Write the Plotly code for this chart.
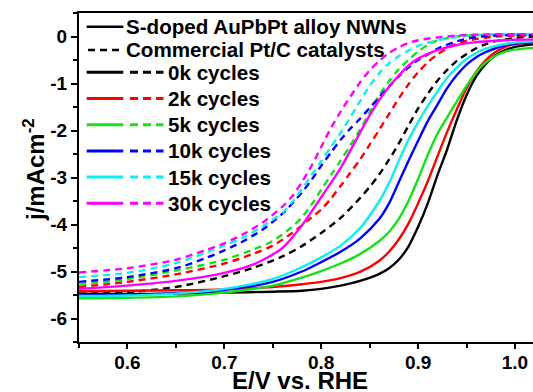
import plotly.graph_objects as go

# ---- potential grids (V vs. RHE) and current densities (mA cm^-2) ----
grid_std = [0.55, 0.60, 0.65, 0.70, 0.75, 0.78, 0.80, 0.82, 0.84, 0.86, 0.87, 0.88,
            0.89, 0.90, 0.91, 0.92, 0.93, 0.94, 0.95, 0.96, 0.97, 0.98, 0.99, 1.00, 1.02]

# S-doped AuPbPt alloy NWNs (solid lines)
nwn_0k_E = grid_std
nwn_0k_j = [-5.48, -5.48, -5.47, -5.45, -5.43, -5.41, -5.37, -5.30, -5.20, -5.05, -4.93, -4.75,
            -4.47, -4.05, -3.55, -2.95, -2.40, -1.78, -1.25, -0.85, -0.58, -0.40, -0.29, -0.22, -0.16]

nwn_2k_E = grid_std
nwn_2k_j = [-5.42, -5.41, -5.40, -5.38, -5.33, -5.27, -5.22, -5.14, -5.01, -4.77, -4.58, -4.32,
            -3.98, -3.55, -3.08, -2.55, -2.03, -1.55, -1.10, -0.75, -0.50, -0.33, -0.22, -0.16, -0.12]

nwn_5k_E = grid_std
nwn_5k_j = [-5.57, -5.56, -5.53, -5.45, -5.30, -5.13, -4.99, -4.83, -4.63, -4.35, -4.16, -3.88,
            -3.50, -3.03, -2.52, -2.07, -1.72, -1.38, -1.05, -0.76, -0.55, -0.41, -0.32, -0.28, -0.24]

nwn_10k_E = grid_std
nwn_10k_j = [-5.50, -5.49, -5.46, -5.39, -5.22, -5.00, -4.80, -4.58, -4.30, -3.88, -3.55, -3.10,
             -2.65, -2.22, -1.80, -1.45, -1.10, -0.82, -0.60, -0.44, -0.33, -0.25, -0.19, -0.15, -0.12]

nwn_15k_E = grid_std
nwn_15k_j = [-5.52, -5.51, -5.47, -5.37, -5.16, -4.91, -4.70, -4.45, -4.08, -3.50, -3.12, -2.65,
             -2.20, -1.82, -1.48, -1.17, -0.88, -0.66, -0.48, -0.35, -0.26, -0.20, -0.16, -0.13, -0.10]

nwn_30k_E = [0.55, 0.60, 0.65, 0.70, 0.73, 0.76, 0.78, 0.80, 0.82, 0.84, 0.85, 0.86, 0.87,
             0.88, 0.89, 0.90, 0.92, 0.94, 0.96, 0.98, 1.00, 1.02]
nwn_30k_j = [-5.37, -5.30, -5.20, -5.03, -4.85, -4.50, -4.02, -3.42, -2.80, -2.05, -1.68, -1.35, -1.07,
             -0.83, -0.62, -0.47, -0.29, -0.18, -0.12, -0.09, -0.07, -0.06]

# Commercial Pt/C catalysts (dashed lines)
ptc_0k_E = [0.55, 0.60, 0.65, 0.70, 0.73, 0.76, 0.78, 0.80, 0.82, 0.84, 0.85, 0.86, 0.87,
            0.88, 0.89, 0.90, 0.91, 0.92, 0.93, 0.94, 0.95, 0.96, 0.97, 0.98, 1.00, 1.02]
ptc_0k_j = [-5.47, -5.44, -5.33, -5.10, -4.92, -4.68, -4.46, -4.18, -3.86, -3.44, -3.20, -2.93, -2.62,
            -2.28, -1.90, -1.53, -1.22, -0.94, -0.71, -0.52, -0.37, -0.25, -0.16, -0.10, -0.03, 0.00]

ptc_2k_E = [0.55, 0.60, 0.65, 0.70, 0.73, 0.75, 0.77, 0.79, 0.80, 0.81, 0.82, 0.83, 0.84, 0.85,
            0.86, 0.87, 0.88, 0.89, 0.90, 0.91, 0.92, 0.93, 0.94, 0.96, 0.98, 1.00, 1.02]
ptc_2k_j = [-5.33, -5.22, -5.06, -4.83, -4.62, -4.45, -4.18, -3.85, -3.68, -3.45, -3.18, -2.90, -2.62, -2.30,
            -1.98, -1.65, -1.32, -1.02, -0.76, -0.55, -0.38, -0.25, -0.15, -0.05, 0.00, 0.02, 0.02]

ptc_5k_E = [0.55, 0.60, 0.65, 0.70, 0.73, 0.75, 0.77, 0.78, 0.79, 0.80, 0.81, 0.82, 0.83,
            0.84, 0.85, 0.86, 0.87, 0.88, 0.89, 0.90, 0.91, 0.92, 0.94, 0.96, 1.00, 1.02]
ptc_5k_j = [-5.28, -5.16, -4.98, -4.75, -4.53, -4.35, -4.05, -3.85, -3.58, -3.26, -2.95, -2.64, -2.32,
            -1.98, -1.62, -1.25, -0.95, -0.70, -0.50, -0.32, -0.18, -0.08, 0.00, 0.03, 0.04, 0.04]

ptc_10k_E = [0.55, 0.60, 0.65, 0.68, 0.70, 0.72, 0.74, 0.76, 0.78, 0.79, 0.80, 0.81, 0.82, 0.83,
             0.84, 0.85, 0.86, 0.87, 0.88, 0.89, 0.90, 0.91, 0.92, 0.94, 0.96, 0.98, 1.00, 1.02]
ptc_10k_j = [-5.22, -5.12, -4.93, -4.72, -4.55, -4.35, -4.10, -3.77, -3.32, -3.05, -2.75, -2.47, -2.20, -1.96,
             -1.75, -1.52, -1.29, -1.06, -0.85, -0.66, -0.50, -0.38, -0.26, -0.10, -0.01, 0.02, 0.03, 0.03]

ptc_15k_E = [0.55, 0.60, 0.65, 0.70, 0.72, 0.74, 0.76, 0.77, 0.78, 0.79, 0.80, 0.81, 0.82,
             0.83, 0.84, 0.85, 0.86, 0.87, 0.88, 0.89, 0.90, 0.92, 0.94, 0.96, 1.00, 1.02]
ptc_15k_j = [-5.12, -5.03, -4.82, -4.45, -4.27, -4.03, -3.75, -3.52, -3.25, -2.95, -2.65, -2.35, -2.05,
             -1.72, -1.38, -1.05, -0.78, -0.57, -0.42, -0.30, -0.20, -0.08, -0.01, 0.03, 0.05, 0.05]

ptc_30k_E = [0.55, 0.60, 0.65, 0.68, 0.70, 0.72, 0.74, 0.76, 0.77, 0.78, 0.79, 0.80, 0.81, 0.82,
             0.83, 0.84, 0.85, 0.86, 0.87, 0.88, 0.89, 0.90, 0.92, 0.94, 0.96, 1.00, 1.02]
ptc_30k_j = [-5.02, -4.93, -4.75, -4.55, -4.40, -4.20, -3.95, -3.62, -3.40, -3.10, -2.75, -2.35, -1.95, -1.60,
             -1.28, -0.98, -0.72, -0.52, -0.35, -0.23, -0.14, -0.08, -0.02, 0.02, 0.04, 0.05, 0.05]

cycle_labels = ["0k cycles", "2k cycles", "5k cycles", "10k cycles", "15k cycles", "30k cycles"]
cycle_colors = ["#000000", "#FF0000", "#18E018", "#0000FF", "#10EEEE", "#FF00FF"]

nwn_series = [(nwn_0k_E, nwn_0k_j), (nwn_2k_E, nwn_2k_j), (nwn_5k_E, nwn_5k_j),
              (nwn_10k_E, nwn_10k_j), (nwn_15k_E, nwn_15k_j), (nwn_30k_E, nwn_30k_j)]
ptc_series = [(ptc_0k_E, ptc_0k_j), (ptc_2k_E, ptc_2k_j), (ptc_5k_E, ptc_5k_j),
              (ptc_10k_E, ptc_10k_j), (ptc_15k_E, ptc_15k_j), (ptc_30k_E, ptc_30k_j)]

x_ticks = [0.6, 0.7, 0.8, 0.9, 1.0]
x_tick_labels = ["0.6", "0.7", "0.8", "0.9", "1.0"]
y_ticks = [-6, -5, -4, -3, -2, -1, 0]
y_tick_labels = ["-6", "-5", "-4", "-3", "-2", "-1", "0"]

# ---- figure geometry ----
W, H = 533, 392
ML, MR, MT, MB = 79, 0, 13, 50
PW, PH = W - ML - MR, H - MT - MB
FONT = "Liberation Sans, Arial, sans-serif"
DASH = "7px,5px"
LW = 2.4


def fx(px):
    return (px - ML) / PW


def fy(py):
    return 1 - (py - MT) / PH


fig = go.Figure()

for (E, j), col, lab in zip(ptc_series, cycle_colors, cycle_labels):
    fig.add_trace(go.Scatter(x=E, y=j, mode="lines", name="Pt/C " + lab, showlegend=False,
                             line=dict(color=col, width=LW, dash=DASH, shape="spline", smoothing=0.8)))
for (E, j), col, lab in zip(nwn_series, cycle_colors, cycle_labels):
    fig.add_trace(go.Scatter(x=E, y=j, mode="lines", name="NWNs " + lab, showlegend=False,
                             line=dict(color=col, width=LW, shape="spline", smoothing=0.8)))

# ---- hand-built legend ----
shapes = []
annotations = []
text_font = dict(family=FONT, size=20.6, color="black", weight="bold")

head_rows = [("S-doped AuPbPt alloy NWNs", "solid", 26.7), ("Commercial Pt/C catalysts", DASH, 50.0)]
for text, dash, py in head_rows:
    x0 = 86.7 if dash == "solid" else 88.0
    shapes.append(dict(type="line", xref="paper", yref="paper", x0=fx(x0), x1=fx(123.3),
                       y0=fy(py), y1=fy(py), line=dict(color="black", width=2.6, dash=dash)))
    annotations.append(dict(xref="paper", yref="paper", x=fx(124), y=fy(py), text=text,
                            showarrow=False, xanchor="left", yanchor="middle", font=text_font))

row_y = [72.3, 98.5, 124.7, 150.9, 177.1, 203.3]
for lab, col, py in zip(cycle_labels, cycle_colors, row_y):
    shapes.append(dict(type="line", xref="paper", yref="paper", x0=fx(86.7), x1=fx(123.3),
                       y0=fy(py), y1=fy(py), line=dict(color=col, width=3)))
    shapes.append(dict(type="line", xref="paper", yref="paper", x0=fx(130), x1=fx(163.5),
                       y0=fy(py), y1=fy(py), line=dict(color=col, width=3, dash="8px,5px")))
    annotations.append(dict(xref="paper", yref="paper", x=fx(165.5), y=fy(py), text=lab,
                            showarrow=False, xanchor="left", yanchor="middle", font=text_font))

# axis titles
annotations.append(dict(xref="paper", yref="paper", x=fx(300), y=fy(380), text="E/V vs. RHE",
                        showarrow=False, xanchor="center", yanchor="middle",
                        font=dict(family=FONT, size=24, color="black", weight="bold")))
annotations.append(dict(xref="paper", yref="paper", x=fx(34), y=fy(170), text="j/mAcm<sup>-2</sup>",
                        textangle=-90, showarrow=False, xanchor="center", yanchor="middle",
                        font=dict(family=FONT, size=24, color="black", weight="bold")))

tick_font = dict(family=FONT, size=19, color="black", weight="bold")

fig.update_layout(
    width=W, height=H,
    margin=dict(l=ML, r=MR, t=MT, b=MB, pad=0),
    paper_bgcolor="white", plot_bgcolor="white",
    showlegend=False,
    shapes=shapes, annotations=annotations,
    xaxis=dict(range=[0.55, 1.0186], showgrid=False, zeroline=False,
               showline=True, linecolor="black", linewidth=2, mirror=True,
               ticks="outside", ticklen=5, tickwidth=2, tickcolor="black",
               ticklabelstandoff=-3,
               tickvals=x_ticks, ticktext=x_tick_labels, tickfont=tick_font,
               minor=dict(tick0=0.55, dtick=0.05, ticks="outside", ticklen=4,
                          tickwidth=2, tickcolor="black", showgrid=False)),
    yaxis=dict(range=[-6.5, 0.5], showgrid=False, zeroline=False,
               showline=True, linecolor="black", linewidth=2, mirror=False,
               ticks="outside", ticklen=6, tickwidth=2, tickcolor="black",
               tickvals=y_ticks, ticktext=y_tick_labels, tickfont=tick_font,
               minor=dict(tick0=0, dtick=0.5, ticks="outside", ticklen=4,
                          tickwidth=2, tickcolor="black", showgrid=False)),
)

fig.write_html("out.html")
